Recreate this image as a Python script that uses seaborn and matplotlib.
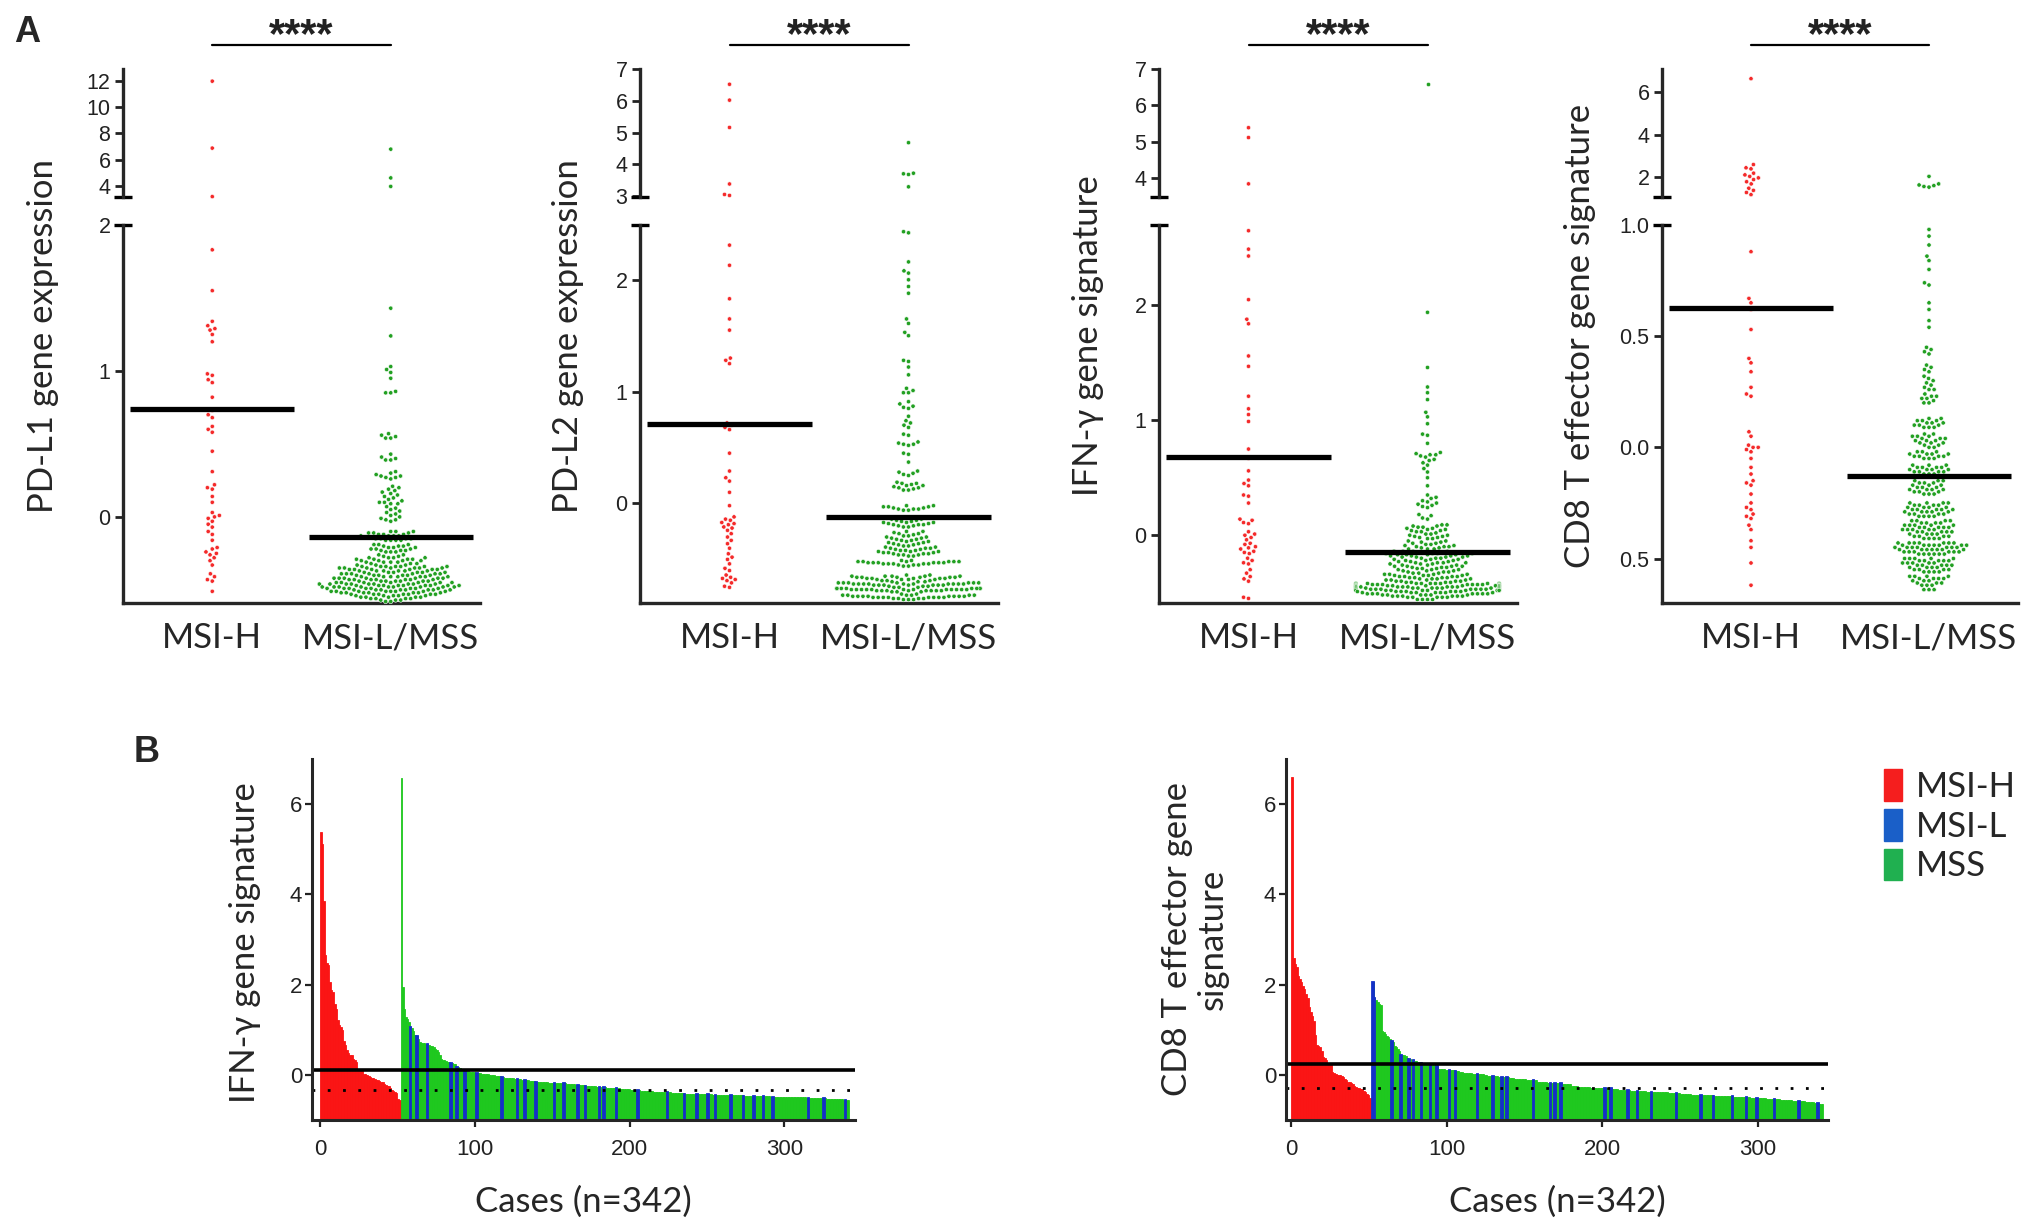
import numpy as np
import pandas as pd
import matplotlib
matplotlib.use("Agg")
import matplotlib.pyplot as plt
import matplotlib.transforms as mtransforms
from matplotlib.patches import Patch
import seaborn as sns

# ---------------- data ----------------
groups = ["MSI-H", "MSI-L/MSS"]

pdl1_msih = [12.0, 6.88, 3.17, 1.83, 1.55, 1.34, 1.31, 1.29, 1.28, 1.25, 1.20,
             0.98, 0.97, 0.94, 0.92, 0.82, 0.73, 0.70, 0.68, 0.62, 0.60, 0.58,
             0.45, 0.31, 0.22, 0.20, 0.19, 0.14, 0.10, 0.03, 0.01, 0.00, -0.01,
             -0.03, -0.05, -0.07, -0.10, -0.12, -0.16, -0.21, -0.22, -0.24, -0.25,
             -0.26, -0.28, -0.30, -0.33, -0.39, -0.41, -0.43, -0.44, -0.51]
pdl1_other = [6.80, 4.60, 3.95, 1.43, 1.24, 1.03, 1.01, 0.99, 0.95, 0.86, 0.85, 0.85,
              0.57, 0.56, 0.55, 0.54, 0.54, 0.43, 0.41, 0.40, 0.39, 0.39,
              0.31, 0.30, 0.29, 0.28, 0.28, 0.27, 0.27, 0.26,
              0.21, 0.20, 0.19, 0.18, 0.17, 0.16, 0.15, 0.14, 0.13, 0.12, 0.11, 0.10, 0.10, 0.09, 0.09,
              0.07, 0.06, 0.05, 0.04, 0.03, 0.02, 0.01, 0.00, -0.01, -0.02, -0.02, -0.03,
              -0.10, -0.10, -0.10, -0.11, -0.11, -0.11, -0.12, -0.12, -0.12, -0.13, -0.13, -0.13, -0.13,
              -0.14, -0.14, -0.14, -0.14, -0.15, -0.15, -0.15, -0.15, -0.16, -0.16, -0.16, -0.16,
              -0.19, -0.19, -0.19, -0.20, -0.20, -0.20, -0.21, -0.21, -0.21, -0.22, -0.22, -0.22,
              -0.23, -0.23, -0.23, -0.24, -0.24, -0.24, -0.26, -0.26, -0.27, -0.27,
              -0.28, -0.28, -0.28, -0.28, -0.29, -0.29, -0.29, -0.29, -0.30, -0.30, -0.30, -0.30,
              -0.31, -0.31, -0.31, -0.31, -0.32, -0.32, -0.32, -0.33, -0.33, -0.33,
              -0.34, -0.34, -0.34, -0.34, -0.34, -0.34, -0.34, -0.35, -0.35, -0.35, -0.35, -0.35, -0.35, -0.35,
              -0.36, -0.36, -0.36, -0.36, -0.36, -0.36,
              -0.37, -0.37, -0.37, -0.37, -0.37, -0.37, -0.38, -0.38, -0.38, -0.38, -0.38, -0.38,
              -0.39, -0.39, -0.39, -0.39, -0.39, -0.39, -0.39, -0.40, -0.40, -0.40, -0.40, -0.40, -0.40,
              -0.41, -0.41, -0.41, -0.41, -0.41, -0.41, -0.41, -0.42, -0.42, -0.42, -0.42, -0.42, -0.42, -0.42,
              -0.43, -0.43, -0.43, -0.43, -0.43, -0.43, -0.43, -0.44, -0.44, -0.44, -0.44, -0.44, -0.44, -0.44,
              -0.45, -0.45, -0.45, -0.45, -0.45, -0.45, -0.45,
              -0.46, -0.46, -0.46, -0.46, -0.46, -0.46, -0.46, -0.46, -0.46,
              -0.47, -0.47, -0.47, -0.47, -0.47, -0.47, -0.47, -0.47, -0.47,
              -0.48, -0.48, -0.48, -0.48, -0.48, -0.48, -0.48, -0.48, -0.48,
              -0.49, -0.49, -0.49, -0.49, -0.49, -0.49, -0.49, -0.49,
              -0.50, -0.50, -0.50, -0.50, -0.50, -0.50, -0.50, -0.50,
              -0.51, -0.51, -0.51, -0.51, -0.51, -0.51, -0.51, -0.51,
              -0.52, -0.52, -0.52, -0.52, -0.52, -0.52, -0.52,
              -0.53, -0.53, -0.53, -0.53, -0.53, -0.53, -0.53,
              -0.54, -0.54, -0.54, -0.54, -0.54, -0.55, -0.55, -0.55, -0.55, -0.55,
              -0.56, -0.56, -0.56, -0.56, -0.57, -0.57, -0.57, -0.58, -0.58]

pdl2_msih = [6.52, 6.02, 5.16, 3.38, 3.05, 3.02, 2.31, 2.13, 1.83, 1.65, 1.55,
             1.30, 1.28, 1.25, 0.72, 0.70, 0.68, 0.66, 0.45, 0.29, 0.23, 0.20, 0.10,
             -0.02, -0.12, -0.14, -0.15, -0.17, -0.18, -0.19, -0.21, -0.22, -0.24,
             -0.27, -0.30, -0.33, -0.36, -0.40, -0.45, -0.48, -0.50, -0.54, -0.58,
             -0.60, -0.64, -0.66, -0.67, -0.68, -0.69, -0.71, -0.74, -0.75]
pdl2_other = [4.68, 3.72, 3.70, 3.68, 3.29, 2.43, 2.42,
              2.16, 2.08, 2.06, 2.00, 1.94, 1.88, 1.65, 1.61, 1.53, 1.50,
              1.28, 1.27, 1.22, 1.15, 1.03, 1.01, 0.99, 0.99,
              0.91, 0.89, 0.87, 0.86, 0.85, 0.78, 0.74, 0.72, 0.70, 0.68,
              0.62, 0.61, 0.55, 0.54, 0.53, 0.53, 0.52, 0.45, 0.44, 0.37,
              0.29, 0.28, 0.27, 0.26, 0.25,
              0.19, 0.18, 0.18, 0.17, 0.16, 0.16, 0.15, 0.14, 0.14, 0.13, 0.12, 0.12,
              -0.02, -0.02, -0.03, -0.03, -0.03, -0.04, -0.04, -0.05, -0.05, -0.05, -0.06, -0.06,
              -0.13, -0.13, -0.14, -0.14, -0.15, -0.15, -0.16, -0.16, -0.17, -0.17,
              -0.17, -0.18, -0.18, -0.19, -0.19, -0.19, -0.20, -0.20, -0.21, -0.21,
              -0.25, -0.25, -0.26, -0.27, -0.27, -0.28, -0.29, -0.29, -0.30, -0.30,
              -0.31, -0.31, -0.32, -0.32, -0.33, -0.33, -0.34, -0.34, -0.35, -0.35,
              -0.36, -0.36, -0.37, -0.37, -0.38, -0.38, -0.39, -0.39, -0.40, -0.40,
              -0.40, -0.41, -0.41, -0.42, -0.42, -0.42, -0.43, -0.43, -0.43, -0.44,
              -0.44, -0.44, -0.45, -0.45, -0.45, -0.46, -0.46, -0.46, -0.47, -0.47,
              -0.51, -0.51, -0.52, -0.52, -0.52, -0.52, -0.52, -0.52, -0.53,
              -0.53, -0.53, -0.53, -0.53, -0.53, -0.54, -0.54,
              -0.54, -0.54, -0.54, -0.55, -0.55, -0.55, -0.56, -0.56,
              -0.64, -0.64, -0.65, -0.65, -0.65, -0.65, -0.65,
              -0.66, -0.66, -0.66, -0.66, -0.66, -0.66,
              -0.67, -0.67, -0.67, -0.67, -0.67, -0.68,
              -0.68, -0.68, -0.68, -0.69, -0.69, -0.69,
              -0.70, -0.70, -0.70, -0.71, -0.71, -0.71, -0.71, -0.71, -0.71, -0.71,
              -0.72, -0.72, -0.72, -0.72, -0.72, -0.72, -0.72, -0.72, -0.72, -0.72,
              -0.73, -0.73, -0.73, -0.73, -0.73, -0.73, -0.73, -0.74, -0.74, -0.74,
              -0.75, -0.75, -0.75, -0.76, -0.76, -0.76, -0.76, -0.76, -0.76, -0.76, -0.76, -0.76,
              -0.77, -0.77, -0.77, -0.77, -0.77, -0.77, -0.77, -0.77, -0.77, -0.77, -0.77, -0.77,
              -0.78, -0.78, -0.78, -0.78, -0.78, -0.78, -0.78, -0.78, -0.79, -0.79, -0.79,
              -0.81, -0.81, -0.82, -0.82, -0.82, -0.82, -0.82, -0.82,
              -0.83, -0.83, -0.83, -0.83, -0.83, -0.83, -0.83, -0.83,
              -0.84, -0.84, -0.84, -0.84, -0.84, -0.84, -0.84, -0.84,
              -0.85, -0.85, -0.85, -0.85, -0.86, -0.86, -0.86]

ifng_msih = [5.39, 5.12, 3.85, 2.65, 2.49, 2.43, 2.05, 1.88, 1.84, 1.56, 1.47,
             1.21, 1.10, 1.05, 0.99, 0.75, 0.67, 0.56, 0.48, 0.45, 0.43, 0.35,
             0.34, 0.28, 0.14, 0.13, 0.11, 0.10, 0.03, 0.01, 0.00, -0.02, -0.04,
             -0.07, -0.08, -0.10, -0.11, -0.12, -0.14, -0.15, -0.16, -0.20, -0.22,
             -0.24, -0.25, -0.30, -0.33, -0.36, -0.38, -0.40, -0.54, -0.55]
ifng_other = [6.58, 1.94, 1.46, 1.29, 1.24, 1.18, 1.07, 1.03, 0.97, 0.88, 0.87, 0.80,
              0.72, 0.71, 0.70, 0.70, 0.69, 0.68, 0.66, 0.65, 0.63, 0.61,
              0.58, 0.55, 0.50, 0.43,
              0.35, 0.33, 0.32, 0.30, 0.29, 0.28, 0.27, 0.26, 0.25, 0.24,
              0.18, 0.17, 0.15, 0.14,
              0.09, 0.09, 0.08, 0.08, 0.07, 0.07, 0.06, 0.06, 0.05, 0.05, 0.04, 0.04,
              0.03, 0.03, 0.02, 0.01, 0.01, 0.00, 0.00, -0.01, -0.01, -0.02, -0.02, -0.03, -0.03,
              -0.05, -0.05, -0.06, -0.06, -0.07, -0.07, -0.08, -0.08, -0.09,
              -0.09, -0.10, -0.10, -0.10, -0.11, -0.11, -0.12, -0.12, -0.12,
              -0.14, -0.14, -0.14, -0.14, -0.15, -0.15, -0.15, -0.15,
              -0.16, -0.16, -0.16, -0.16, -0.17, -0.17, -0.17, -0.17,
              -0.18, -0.18, -0.18, -0.18, -0.19, -0.19, -0.19, -0.19,
              -0.20, -0.20, -0.20, -0.21, -0.21, -0.21,
              -0.22, -0.22, -0.22, -0.23, -0.23, -0.23, -0.24, -0.24, -0.24, -0.24,
              -0.25, -0.25, -0.25, -0.26, -0.26, -0.26, -0.27, -0.27, -0.27, -0.27,
              -0.28, -0.28, -0.28, -0.29, -0.29, -0.29, -0.30, -0.30, -0.30,
              -0.31, -0.31, -0.31, -0.32, -0.32, -0.32,
              -0.33, -0.33, -0.33, -0.34, -0.34, -0.34, -0.34, -0.35, -0.35, -0.35, -0.35,
              -0.36, -0.36, -0.36, -0.36, -0.37, -0.37, -0.37, -0.37, -0.38, -0.38, -0.38, -0.38,
              -0.39, -0.39, -0.39, -0.39, -0.40, -0.40, -0.40, -0.40, -0.41, -0.41, -0.41, -0.41,
              -0.42, -0.42, -0.42, -0.42, -0.42, -0.42, -0.42, -0.42, -0.42,
              -0.43, -0.43, -0.43, -0.43, -0.43, -0.43, -0.43, -0.43, -0.43,
              -0.44, -0.44, -0.44, -0.44, -0.44, -0.44, -0.44, -0.44, -0.44, -0.44,
              -0.45, -0.45, -0.45, -0.45, -0.45, -0.45, -0.45, -0.45, -0.45, -0.45,
              -0.46, -0.46, -0.46, -0.46, -0.46, -0.46, -0.46, -0.46, -0.46,
              -0.47, -0.47, -0.47, -0.47, -0.47, -0.47, -0.47, -0.47, -0.47,
              -0.48, -0.48, -0.48, -0.48, -0.48, -0.48, -0.48, -0.48, -0.48,
              -0.49, -0.49, -0.49, -0.49, -0.49, -0.49, -0.49,
              -0.50, -0.50, -0.50, -0.50, -0.50, -0.50, -0.50,
              -0.51, -0.51, -0.51, -0.51, -0.51, -0.51, -0.51,
              -0.52, -0.52, -0.52, -0.52, -0.52, -0.52,
              -0.53, -0.53, -0.53, -0.53, -0.53, -0.53,
              -0.54, -0.54, -0.54, -0.54, -0.54, -0.56, -0.56, -0.56, -0.56]

cd8_msih = [6.60, 2.60, 2.45, 2.40, 2.20, 2.12, 2.05, 1.98, 1.90, 1.80, 1.70,
            1.50, 1.40, 1.30, 1.20, 0.88, 0.67, 0.65, 0.62, 0.53, 0.40, 0.38,
            0.34, 0.27, 0.24, 0.23, 0.07, 0.05, 0.01, 0.00, 0.00, -0.01, -0.02,
            -0.05, -0.09, -0.12, -0.15, -0.16, -0.17, -0.21, -0.25, -0.27, -0.28,
            -0.30, -0.31, -0.32, -0.35, -0.37, -0.42, -0.45, -0.52, -0.62]
cd8_other = [2.05, 1.70, 1.65, 1.62, 1.58, 1.55,
             0.98, 0.95, 0.91, 0.86, 0.84, 0.80, 0.74, 0.73, 0.65, 0.62, 0.57, 0.54,
             0.45, 0.44, 0.43, 0.42, 0.37, 0.36, 0.35, 0.34,
             0.32, 0.31, 0.30, 0.29, 0.28, 0.27, 0.26, 0.26,
             0.24, 0.23, 0.23, 0.22, 0.22, 0.21, 0.20, 0.20,
             0.13, 0.13, 0.12, 0.12, 0.12, 0.11, 0.11, 0.11, 0.10, 0.10, 0.10, 0.09, 0.09, 0.09,
             0.06, 0.06, 0.05, 0.05, 0.05, 0.04, 0.04, 0.04, 0.03, 0.03, 0.03, 0.02, 0.02, 0.02,
             0.01, 0.01, 0.00, 0.00,
             -0.02, -0.02, -0.02, -0.03, -0.03, -0.03, -0.03, -0.04, -0.04, -0.04, -0.04,
             -0.05, -0.05, -0.05,
             -0.08, -0.08, -0.08, -0.09, -0.09, -0.09, -0.09, -0.10, -0.10, -0.10, -0.10,
             -0.11, -0.11, -0.11, -0.11, -0.12, -0.12, -0.12,
             -0.15, -0.15, -0.15, -0.16, -0.16, -0.16, -0.17, -0.17, -0.17, -0.18, -0.18,
             -0.18, -0.19, -0.19, -0.19, -0.19, -0.20, -0.20, -0.20, -0.21, -0.21, -0.21,
             -0.25, -0.25, -0.25, -0.25, -0.26, -0.26, -0.26, -0.26, -0.27, -0.27, -0.27, -0.27,
             -0.28, -0.28, -0.28, -0.28, -0.28, -0.29, -0.29, -0.29, -0.29, -0.29,
             -0.30, -0.30, -0.30, -0.30, -0.31, -0.31, -0.31, -0.31,
             -0.33, -0.33, -0.33, -0.33, -0.34, -0.34, -0.34, -0.34,
             -0.35, -0.35, -0.35, -0.35, -0.35, -0.36, -0.36, -0.36, -0.36, -0.36,
             -0.37, -0.37, -0.37, -0.37, -0.37, -0.38, -0.38, -0.38, -0.38, -0.38,
             -0.39, -0.39, -0.39, -0.39, -0.40, -0.40, -0.40, -0.40, -0.41, -0.41, -0.41, -0.41,
             -0.43, -0.43, -0.43, -0.43, -0.43, -0.43, -0.43,
             -0.44, -0.44, -0.44, -0.44, -0.44, -0.44, -0.44,
             -0.45, -0.45, -0.45, -0.45, -0.45, -0.45, -0.45,
             -0.46, -0.46, -0.46, -0.46, -0.46, -0.46, -0.46,
             -0.47, -0.47, -0.47, -0.47, -0.47, -0.47,
             -0.48, -0.48, -0.48, -0.48, -0.48, -0.48,
             -0.50, -0.50, -0.50, -0.50, -0.50, -0.51, -0.51, -0.51, -0.51, -0.51,
             -0.52, -0.52, -0.52, -0.52, -0.52, -0.53, -0.53, -0.53, -0.53, -0.53,
             -0.54, -0.54, -0.54, -0.54, -0.55, -0.55, -0.55, -0.55,
             -0.56, -0.56, -0.56, -0.56,
             -0.58, -0.58, -0.58, -0.58, -0.59, -0.59, -0.59, -0.59,
             -0.60, -0.60, -0.60, -0.61, -0.61, -0.61, -0.62, -0.62, -0.62,
             -0.64, -0.64, -0.64]

# group means drawn as black bars in panel A
pdl1_means = [0.74, -0.14]
pdl2_means = [0.71, -0.12]
ifng_means = [0.68, -0.15]
cd8_means = [0.625, -0.13]

# panel B: ranked positions of MSI-L cases, and the two reference lines
ifng_msil_pos = [58, 62, 69, 84, 88, 93, 101, 117, 127, 132, 139, 151, 157, 166, 171, 180,
                 183, 191, 205, 224, 235, 243, 250, 255, 265, 273, 280, 286, 292, 315, 325, 339]
cd8_msil_pos = [52, 53, 64, 70, 75, 78, 83, 89, 93, 101, 105, 119, 129, 135, 138, 155, 166,
                169, 173, 201, 205, 216, 222, 231, 247, 263, 271, 283, 292, 299, 310, 326, 338]
ifng_ref = [0.11, -0.33]
cd8_ref = [0.23, -0.28]

# ---------------- style ----------------
sns.set_style("ticks")
plt.rcParams["font.family"] = ["Liberation Sans", "DejaVu Sans"]
LABEL_FONT = ["Lato", "DejaVu Sans"]
TICK_FONT_B = ["Liberation Sans Narrow", "Liberation Sans"]

W, H = 2031, 1232
fig = plt.figure(figsize=(W / 100, H / 100), dpi=100)
fig.patch.set_facecolor("white")


def rect(l, t, r, b):
    return [l / W, 1 - b / H, (r - l) / W, (b - t) / H]


pal = {"MSI-H": "#f42a2a", "MSI-L/MSS": "#22a022"}

panels = [
    dict(msih=pdl1_msih, other=pdl1_other, means=pdl1_means, label="PD-L1 gene expression",
         low=(-0.59, 2.0), up=(3.14, 12.93), low_t=[0, 1, 2], up_t=[4, 6, 8, 10, 12],
         low_l=None, x=(123, 480), lab_x=43),
    dict(msih=pdl2_msih, other=pdl2_other, means=pdl2_means, label="PD-L2 gene expression",
         low=(-0.89, 2.49), up=(2.97, 7.0), low_t=[0, 1, 2], up_t=[3, 4, 5, 6, 7],
         low_l=None, x=(640, 998), lab_x=568),
    dict(msih=ifng_msih, other=ifng_other, means=ifng_means, label="IFN-γ gene signature",
         low=(-0.59, 2.70), up=(3.49, 7.0), low_t=[0, 1, 2], up_t=[4, 5, 6, 7],
         low_l=None, x=(1159, 1517), lab_x=1088),
    dict(msih=cd8_msih, other=cd8_other, means=cd8_means, label="CD8 T effector gene signature",
         low=(-0.70, 1.0), up=(1.09, 7.05), low_t=[-0.5, 0.0, 0.5, 1.0], up_t=[2, 4, 6],
         low_l=["0.5", "0.0", "0.5", "1.0"], x=(1662, 2018), lab_x=1580),
]

LO_T, LO_B, UP_T, UP_B = 225, 603, 69, 197

for p in panels:
    x0, x1 = p["x"]
    ax_lo = fig.add_axes(rect(x0, LO_T, x1, LO_B))
    ax_hi = fig.add_axes(rect(x0, UP_T, x1, UP_B))
    df = pd.DataFrame({
        "group": ["MSI-H"] * len(p["msih"]) + ["MSI-L/MSS"] * len(p["other"]),
        "value": np.concatenate([p["msih"], p["other"]]),
    })
    top = p["low"][1]
    for ax, sub, lim in ((ax_lo, df[df.value <= top], p["low"]),
                         (ax_hi, df[df.value > top], p["up"])):
        sns.swarmplot(data=sub, x="group", y="value", hue="group", order=groups,
                      hue_order=groups, palette=pal, size=3.1, linewidth=0.4,
                      edgecolor="white", legend=False, ax=ax, clip_on=False,
                      warn_thresh=1)
        ax.set_xlim(-0.5, 1.5)
        ax.set_ylim(*lim)
        ax.set_xlabel("")
        ax.set_ylabel("")
        for s in ("top", "right"):
            ax.spines[s].set_visible(False)
        ax.spines["left"].set_linewidth(2.4)
        ax.spines["bottom"].set_linewidth(2.4)
        ax.tick_params(axis="y", direction="out", length=6, width=2, labelsize=15.5,
                       pad=3, colors="#222222")
    ax_hi.spines["bottom"].set_visible(False)
    ax_hi.set_xticks([])
    ax_hi.set_yticks(p["up_t"], labels=[str(v) for v in p["up_t"]])
    if p["low_l"] is None:
        ax_lo.set_yticks(p["low_t"], labels=[str(v) for v in p["low_t"]])
    else:
        ax_lo.set_yticks(p["low_t"], labels=p["low_l"])
    ax_lo.set_xticks([0, 1], labels=groups)
    ax_lo.tick_params(axis="x", length=0, pad=14)
    for t in ax_lo.get_xticklabels():
        t.set_fontfamily(LABEL_FONT)
        t.set_fontsize(25)

    # break caps
    ax_lo.plot([-0.025, 0.025], [1, 1], transform=ax_lo.transAxes, color="black",
               lw=2.4, clip_on=False, solid_capstyle="butt")
    ax_hi.plot([-0.025, 0.025], [0, 0], transform=ax_hi.transAxes, color="black",
               lw=2.4, clip_on=False, solid_capstyle="butt")

    # group means
    for j, m in enumerate(p["means"]):
        ax_lo.hlines(m, j - 0.46, j + 0.46, color="black", lw=3.8, zorder=5)

    # significance bracket
    tr = mtransforms.blended_transform_factory(ax_hi.transData, fig.transFigure)
    ax_hi.plot([0, 1], [1 - 45 / H] * 2, transform=tr, color="black", lw=1.6, clip_on=False)
    ax_hi.text(0.5, 1 - 47 / H, "****", transform=tr, ha="center", va="baseline",
               fontsize=30, fontweight="bold", color="#222222")

    fig.text(p["lab_x"] / W, 1 - 336 / H, p["label"], rotation=90, ha="center",
             va="center", fontsize=25, family=LABEL_FONT)

fig.text(27 / W, 1 - 33 / H, "A", fontsize=26, fontweight="bold", ha="center", va="center")
fig.text(147 / W, 1 - 752 / H, "B", fontsize=26, fontweight="bold", ha="center", va="center")

# ---------------- panel B ----------------
bar_red, bar_blue, bar_green = "#fa1414", "#1430c8", "#1ec81e"
b_specs = [
    dict(msih=ifng_msih, other=ifng_other, blue=ifng_msil_pos, ref=ifng_ref,
         x=(312, 855), xlim=(-5.2, 345.6), label="IFN-γ gene signature", lab=(245, 943)),
    dict(msih=cd8_msih, other=cd8_other, blue=cd8_msil_pos, ref=cd8_ref,
         x=(1286, 1828), xlim=(-3.5, 345.0), label="CD8 T effector gene\nsignature",
         lab=(1195, 939)),
]
for b in b_specs:
    ax = fig.add_axes(rect(b["x"][0], 759, b["x"][1], 1120))
    h_sorted = np.sort(np.array(b["msih"]))[::-1]
    o_sorted = np.sort(np.array(b["other"]))[::-1]
    vals = np.concatenate([h_sorted, o_sorted])
    n_h = len(h_sorted)
    blue_set = set(b["blue"])
    is_blue = np.array([False] * n_h + [(n_h + r) in blue_set for r in range(len(o_sorted))])
    colors = [bar_red] * n_h + [bar_green] * len(o_sorted)
    base = -1.0
    xs = np.arange(len(vals)) + 0.5
    ax.bar(xs, vals - base, bottom=base, width=1.0, color=colors, edgecolor=colors,
           linewidth=0.6)
    # MSI-L cases drawn on top, slightly heavier as in the original
    ax.bar(xs[is_blue], vals[is_blue] - base, bottom=base, width=1.0, color=bar_blue,
           edgecolor=bar_blue, linewidth=1.3, zorder=3)
    ax.axhline(b["ref"][0], color="black", lw=2.6, zorder=5)
    ax.axhline(b["ref"][1], color="black", lw=2.0, linestyle=(0, (1, 4.5)), zorder=5)
    ax.set_xlim(*b["xlim"])
    ax.set_ylim(-1.0, 7.0)
    for s in ("top", "right"):
        ax.spines[s].set_visible(False)
    ax.spines["left"].set_linewidth(2.2)
    ax.spines["bottom"].set_linewidth(2.2)
    ax.spines["left"].set_zorder(6)
    ax.spines["bottom"].set_zorder(6)
    ax.set_xticks([0, 100, 200, 300])
    ax.set_yticks([0, 2, 4, 6])
    ax.tick_params(direction="out", length=5, width=1.6, labelsize=16, colors="#222222")
    ax.tick_params(axis="x", pad=9)
    ax.tick_params(axis="y", pad=2)
    for t in ax.get_xticklabels() + ax.get_yticklabels():
        t.set_fontfamily(TICK_FONT_B)
    fig.text((b["x"][0] + b["x"][1]) / 2 / W, 1 - 1202 / H, "Cases (n=342)", ha="center",
             va="center", fontsize=25, family=LABEL_FONT)
    fig.text(b["lab"][0] / W, 1 - b["lab"][1] / H, b["label"], rotation=90, ha="center",
             va="center", fontsize=25, family=LABEL_FONT, multialignment="center",
             linespacing=1.15)

handles = [Patch(color="#f51e1e", label="MSI-H"),
           Patch(color="#1a5fc8", label="MSI-L"),
           Patch(color="#20b050", label="MSS")]
fig.legend(handles=handles, loc="upper left", bbox_to_anchor=(1884 / W, 1 - 769 / H),
           frameon=False, handlelength=0.52, handleheight=1.04, handletextpad=0.4,
           labelspacing=0.17, borderpad=0, borderaxespad=0,
           prop={"family": LABEL_FONT, "size": 25})

fig.savefig("out.png", dpi=100, facecolor="white")
